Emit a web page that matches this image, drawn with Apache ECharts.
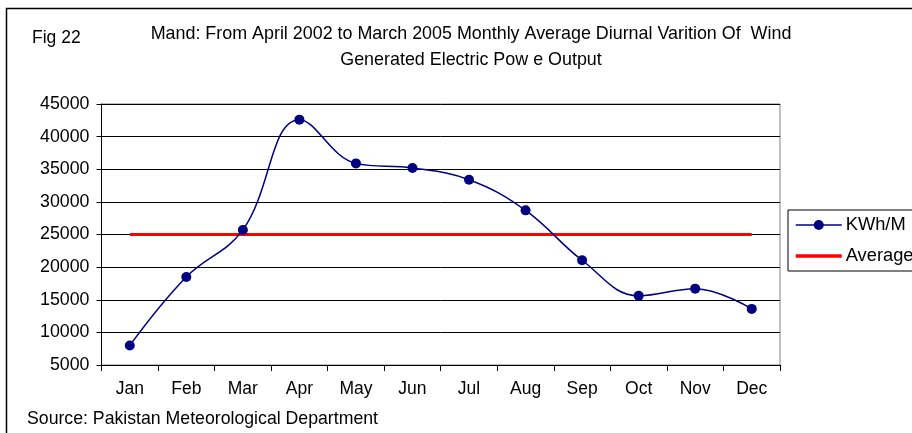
<!DOCTYPE html>
<html>
<head>
<meta charset="utf-8">
<script src="https://cdn.jsdelivr.net/npm/echarts@6/dist/echarts.min.js"></script>
<style>
html,body{margin:0;padding:0;background:#fff;}
#c{width:912px;height:433px;}
</style>
</head>
<body>
<div id="c"></div>
<script>
var months = ['Jan','Feb','Mar','Apr','May','Jun','Jul','Aug','Sep','Oct','Nov','Dec'];
var kwhValues = [8000, 18500, 25700, 42600, 35900, 35200, 33400, 28700, 21050, 15600, 16700, 13600];
var averageValues = [25000, 25000, 25000, 25000, 25000, 25000, 25000, 25000, 25000, 25000, 25000, 25000];
var titleLines = ['Mand: From April 2002 to March 2005 Monthly Average Diurnal Varition Of  Wind', 'Generated Electric Pow e Output'];
var figLabel = 'Fig 22';
var sourceText = 'Source: Pakistan Meteorological Department';

var FONT = 'Liberation Sans, Arial, sans-serif';
var chart = echarts.init(document.getElementById('c'), null, {renderer: 'canvas'});
chart.setOption({
  animation: false,
  backgroundColor: '#fff',
  textStyle: {fontFamily: FONT},
  title: [
    {text: titleLines.join('\n'), left: 466, top: 16, textAlign: 'center',
     textStyle: {fontFamily: FONT, fontSize: 17.9, fontWeight: 'normal', color: '#000', lineHeight: 26}},
    {text: figLabel, left: 32, top: 29, padding: 0,
     textStyle: {fontFamily: FONT, fontSize: 17.5, fontWeight: 'normal', color: '#000'}},
    {text: sourceText, left: 27, top: 410, padding: 0,
     textStyle: {fontFamily: FONT, fontSize: 17.7, fontWeight: 'normal', color: '#000'}}
  ],
  graphic: [
    {type: 'rect', shape: {x: 6.5, y: 8.5, width: 1000, height: 1000}, silent: true,
     style: {fill: 'none', stroke: '#000', lineWidth: 1.5}, z: 100}
  ],
  legend: {
    left: 788, top: 210,
    orient: 'vertical',
    padding: [6, 60, 6, 6],
    itemGap: 13,
    itemWidth: 46, itemHeight: 12.5,
    borderColor: '#000', borderWidth: 1,
    textStyle: {fontFamily: FONT, fontSize: 18.3, color: '#000', padding: [0,0,0,-1]},
    data: [
      {name: 'KWh/M', lineStyle: {width: 1.5, color: '#000080'}},
      {name: 'Average', itemStyle: {opacity: 0}, lineStyle: {width: 3.5, color: '#ff0000'}}
    ]
  },
  grid: {left: 101.5, right: 132, top: 104, bottom: 68, show: true, borderColor: '#808080', borderWidth: 1, containLabel: false},
  xAxis: {
    type: 'category',
    data: months,
    boundaryGap: true,
    axisLine: {lineStyle: {color: '#000', width: 1}},
    axisTick: {show: true, length: 6, lineStyle: {color: '#000'}},
    axisLabel: {fontFamily: FONT, fontSize: 17.5, color: '#000', margin: 15},
    splitLine: {show: false}
  },
  yAxis: {
    type: 'value',
    min: 5000, max: 45000, interval: 5000,
    axisLine: {show: true, lineStyle: {color: '#000', width: 1}},
    axisTick: {show: true, length: 5, lineStyle: {color: '#000'}},
    axisLabel: {fontFamily: FONT, fontSize: 17.8, color: '#000', margin: 12, formatter: function (v) { return String(v); }},
    splitLine: {show: true, lineStyle: {color: '#000', width: 1}}
  },
  series: [
    {
      name: 'KWh/M', type: 'line', data: kwhValues,
      smooth: 0.4,
      symbol: 'circle', symbolSize: 10,
      lineStyle: {color: '#000080', width: 1.5},
      itemStyle: {color: '#000080'},
      z: 3
    },
    {
      name: 'Average', type: 'line', data: averageValues,
      symbol: 'none', showSymbol: false,
      lineStyle: {color: '#ff0000', width: 3},
      itemStyle: {color: '#ff0000'},
      z: 2
    }
  ]
});
</script>
</body>
</html>
